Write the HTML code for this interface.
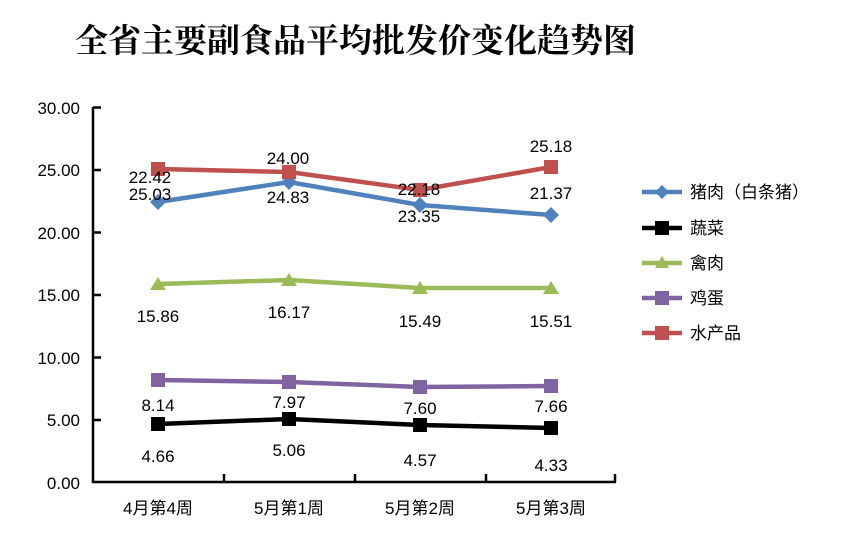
<!DOCTYPE html>
<html><head><meta charset="utf-8"><style>
html,body{margin:0;padding:0;background:#fff;}
svg{display:block;}
text{font-family:"Liberation Sans","Noto Sans CJK SC",sans-serif;font-size:17px;fill:#000;}
</style></head><body>
<svg width="853" height="541" viewBox="0 0 853 541" xmlns="http://www.w3.org/2000/svg">
<text x="75" y="52" style="font-family:'Noto Serif CJK SC','Noto Sans CJK SC',serif;font-size:33px;font-weight:bold;">全省主要副食品平均批发价变化趋势图</text>
<g stroke="#000" stroke-width="2.5" fill="none">
<line x1="93" y1="107" x2="93" y2="483"/>
<line x1="92" y1="482" x2="616" y2="482"/>
<line x1="93" y1="107.5" x2="101" y2="107.5"/>
<line x1="93" y1="170" x2="101" y2="170"/>
<line x1="93" y1="232.5" x2="101" y2="232.5"/>
<line x1="93" y1="295" x2="101" y2="295"/>
<line x1="93" y1="357.5" x2="101" y2="357.5"/>
<line x1="93" y1="420" x2="101" y2="420"/>
<line x1="224" y1="482" x2="224" y2="474"/>
<line x1="355" y1="482" x2="355" y2="474"/>
<line x1="486" y1="482" x2="486" y2="474"/>
<line x1="615" y1="482" x2="615" y2="474"/>
</g>
<g text-anchor="end">
<text x="80" y="114">30.00</text>
<text x="80" y="176">25.00</text>
<text x="80" y="239">20.00</text>
<text x="80" y="301">15.00</text>
<text x="80" y="364">10.00</text>
<text x="80" y="426">5.00</text>
<text x="80" y="489">0.00</text>
</g>
<g text-anchor="middle">
<text x="158" y="514">4月第4周</text>
<text x="289" y="514">5月第1周</text>
<text x="420" y="514">5月第2周</text>
<text x="551" y="514">5月第3周</text>
</g>
<polyline points="158,202 289,182 420,205 551,215" fill="none" stroke="#4f81bd" stroke-width="4.5"/>
<polyline points="158,169 289,172 420,190 551,167" fill="none" stroke="#c0504d" stroke-width="4.5"/>
<polyline points="158,284 289,280 420,288 551,288" fill="none" stroke="#9bbb59" stroke-width="4.5"/>
<polyline points="158,380 289,382 420,387 551,386" fill="none" stroke="#8064a2" stroke-width="4.5"/>
<polyline points="158,424 289,419 420,425 551,428" fill="none" stroke="#000" stroke-width="4.5"/>
<g fill="#4f81bd">
<polygon points="158,194 166,202 158,210 150,202"/><polygon points="289,174 297,182 289,190 281,182"/>
<polygon points="420,197 428,205 420,213 412,205"/><polygon points="551,207 559,215 551,223 543,215"/>
</g>
<g fill="#c0504d">
<rect x="151" y="162" width="14" height="14"/><rect x="282" y="165" width="14" height="14"/>
<rect x="413" y="183" width="14" height="14"/><rect x="544" y="160" width="14" height="14"/>
</g>
<g fill="#9bbb59">
<polygon points="158,277 166,290 150,290"/><polygon points="289,273 297,286 281,286"/>
<polygon points="420,281 428,294 412,294"/><polygon points="551,281 559,294 543,294"/>
</g>
<g fill="#8064a2">
<rect x="151" y="373" width="14" height="14"/><rect x="282" y="375" width="14" height="14"/>
<rect x="413" y="380" width="14" height="14"/><rect x="544" y="379" width="14" height="14"/>
</g>
<g fill="#000">
<rect x="151" y="417" width="14" height="14"/><rect x="282" y="412" width="14" height="14"/>
<rect x="413" y="418" width="14" height="14"/><rect x="544" y="421" width="14" height="14"/>
</g>
<g text-anchor="middle">
<text x="150" y="183">22.42</text><text x="288" y="164">24.00</text><text x="419" y="195">22.18</text><text x="551" y="199">21.37</text>
<text x="150" y="200">25.03</text><text x="288" y="203">24.83</text><text x="419" y="222">23.35</text><text x="551" y="152">25.18</text>
<text x="158" y="322">15.86</text><text x="289" y="318">16.17</text><text x="420" y="327">15.49</text><text x="551" y="327">15.51</text>
<text x="158" y="411">8.14</text><text x="289" y="408">7.97</text><text x="420" y="414">7.60</text><text x="551" y="412">7.66</text>
<text x="158" y="462">4.66</text><text x="289" y="456">5.06</text><text x="420" y="466">4.57</text><text x="551" y="471">4.33</text>
</g>
<line x1="642" y1="192" x2="682" y2="192" stroke="#4f81bd" stroke-width="4.5"/>
<polygon points="662,185 669,192 662,199 655,192" fill="#4f81bd"/>
<text x="690" y="198">猪肉（白条猪）</text>
<line x1="642" y1="228" x2="682" y2="228" stroke="#000" stroke-width="4.5"/>
<rect x="655" y="221" width="14" height="14" fill="#000"/>
<text x="690" y="234">蔬菜</text>
<line x1="642" y1="263" x2="682" y2="263" stroke="#9bbb59" stroke-width="4.5"/>
<polygon points="662,256 669,268 655,268" fill="#9bbb59"/>
<text x="690" y="269">禽肉</text>
<line x1="642" y1="298" x2="682" y2="298" stroke="#8064a2" stroke-width="4.5"/>
<rect x="655" y="291" width="14" height="14" fill="#8064a2"/>
<text x="690" y="304">鸡蛋</text>
<line x1="642" y1="333" x2="682" y2="333" stroke="#c0504d" stroke-width="4.5"/>
<rect x="655" y="326" width="14" height="14" fill="#c0504d"/>
<text x="690" y="339">水产品</text>
</svg>
</body></html>
